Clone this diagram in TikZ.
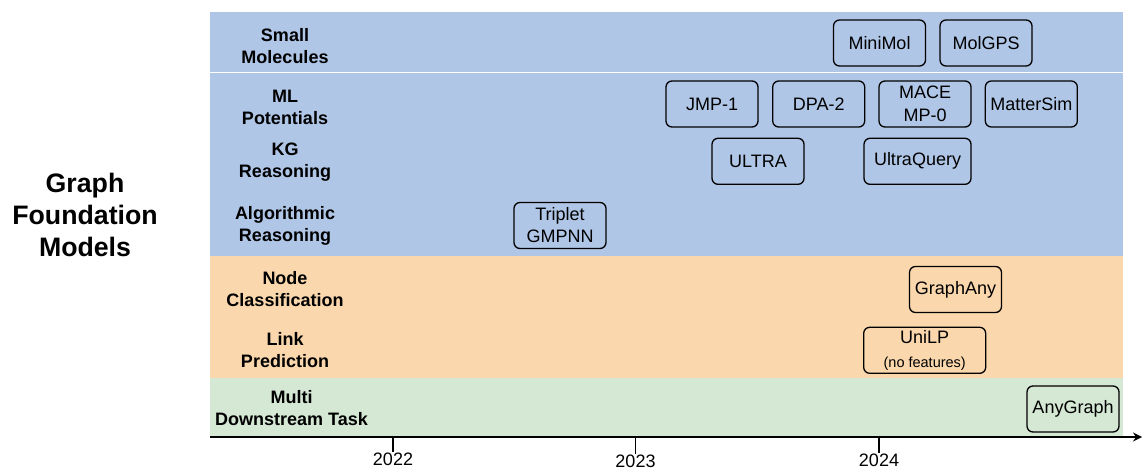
\documentclass[tikz,border=0pt]{standalone}
\usepackage{fontspec}
\setmainfont{Liberation Sans}
\usetikzlibrary{arrows.meta}
\definecolor{bandblue}{HTML}{B0C6E6}
\definecolor{bandorange}{HTML}{FAD7AC}
\definecolor{bandgreen}{HTML}{D5E8D4}
\begin{document}
\begin{tikzpicture}[x=1pt,y=-1pt,
  rowlabel/.style={font=\bfseries\fontsize{18}{22}\selectfont, align=center, inner sep=0},
  model/.style={draw=black, line width=1.3pt, rounded corners=6pt, minimum height=46pt,
    minimum width=92pt, inner sep=0, align=center, font=\fontsize{18}{23}\selectfont},
  yearlabel/.style={font=\fontsize{18}{22}\selectfont, inner sep=0},
  tick/.style={line width=1.2pt}]
\useasboundingbox (0,0) rectangle (1142,468);

% background bands
\fill[bandblue] (210,12) rectangle (1123,256);
\fill[bandorange] (210,256) rectangle (1123,378);
\fill[bandgreen] (210,378) rectangle (1123,437);
\draw[white, line width=1.3pt] (210,72.7) -- (1123,72.7);

% title
\node[font=\bfseries\fontsize{26.7}{32}\selectfont, align=center, inner sep=0] (title) at (85,215)
  {Graph\\Foundation\\Models};

% row labels
\node[rowlabel] (smallmol) at (285,46) {Small\\Molecules};
\node[rowlabel] (mlpot) at (285,107.5) {ML\\Potentials};
\node[rowlabel] (kgr) at (285,161.7) {KG\\Reasoning};
\node[rowlabel] (algr) at (285,226) {Algorithmic\\Reasoning};
\node[rowlabel] (nodecls) at (285,289) {Node\\Classification};
\node[rowlabel] (linkpred) at (285,350.5) {Link\\Prediction};
\node[rowlabel] (multi) at (291.5,408) {Multi\\Downstream Task};

% models
\node[model] (minimol) at (879.5,43) {MiniMol};
\node[model] (molgps) at (986,43) {MolGPS};
\node[model] (jmp) at (712,104) {JMP-1};
\node[model] (dpa) at (818.7,104) {DPA-2};
\node[model] (mace) at (925,104) {MACE\\MP-0};
\node[model] (mattersim) at (1031.3,104) {MatterSim};
\node[model] (ultra) at (758,161.3) {ULTRA};
\node[model, minimum width=107pt] (ultraquery) at (917.5,161.3) {UltraQuery};
\node[model, font=\fontsize{18}{22}\selectfont] (triplet) at (560,225.5) {Triplet\\GMPNN};
\node[model] (graphany) at (955.5,289.5) {GraphAny};
\node[model, minimum width=122pt] (unilp) at (924.7,350.3)
  {UniLP\\[1pt]{\fontsize{14.5}{16}\selectfont (no features)}};
\node[model] (anygraph) at (1073,409) {AnyGraph};

% time axis
\coordinate (axstart) at (210,437);
\coordinate (axend) at (1142,437);
\draw[line width=1.4pt, -{Stealth[length=9pt,width=9pt,inset=3pt]}] (axstart) -- (axend);
\coordinate (t22) at (393,437);
\coordinate (t23) at (635.5,437);
\coordinate (t24) at (879,437);
\node[yearlabel] (y22) at (393,459) {2022};
\node[yearlabel] (y23) at (635.5,461) {2023};
\node[yearlabel] (y24) at (879,460) {2024};
\draw[tick] (t22) -- (y22.north);
\draw[tick] (t23) -- (y23.north);
\draw[tick] (t24) -- (y24.north);
\end{tikzpicture}
\end{document}
